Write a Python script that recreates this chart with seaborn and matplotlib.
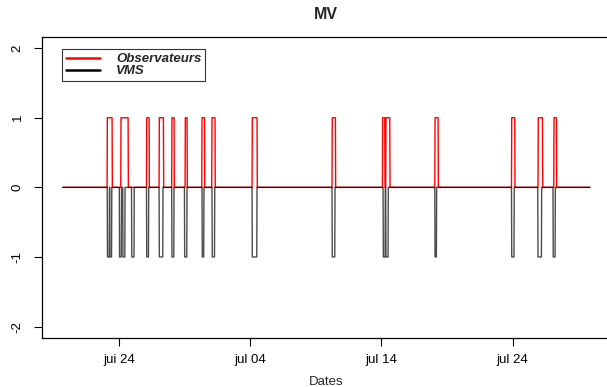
import matplotlib
matplotlib.use("Agg")
import matplotlib.pyplot as plt
import seaborn as sns
import pandas as pd
import numpy as np
from matplotlib.lines import Line2D

# ---- data (day offsets relative to 24 June) ----
base_date = "2010-06-24"
series_start = -4.26
series_end = 35.88

obs_start = [-0.88, 0.16, 2.12, 3.08, 4.04, 5.06, 6.33, 7.09, 10.16, 16.25, 20.09, 20.34, 24.08, 29.92, 31.94, 33.14]
obs_end   = [-0.50, 0.72, 2.32, 3.41, 4.22, 5.21, 6.54, 7.34, 10.54, 16.51, 20.27, 20.65, 24.33, 30.17, 32.28, 33.34]

vms_start = [-0.87, -0.68, 0.05, 0.31, 0.98, 2.12, 3.08, 4.04, 5.01, 6.35, 7.11, 10.16, 16.25, 20.14, 20.34, 24.08, 29.92, 31.92, 33.08]
vms_end   = [-0.72, -0.54, 0.20, 0.47, 1.17, 2.27, 3.36, 4.20, 5.19, 6.48, 7.30, 10.52, 16.46, 20.29, 20.52, 24.20, 30.11, 32.20, 33.24]

obs_value = 1
vms_value = -1
series_names = ["Observateurs", "VMS"]
tick_days = [0, 10, 20, 30]
tick_labels = ["jui 24", "jul 04", "jul 14", "jul 24"]

ramp = 0.02

def build(starts, ends, val, name):
    t = [series_start]
    v = [0]
    for s, e in zip(starts, ends):
        t += [s - ramp / 2, s + ramp / 2, e - ramp / 2, e + ramp / 2]
        v += [0, val, val, 0]
    t.append(series_end)
    v.append(0)
    base = pd.Timestamp(base_date)
    return pd.DataFrame({"Dates": [base + pd.Timedelta(days=x) for x in t],
                         "value": v, "serie": name})

df = pd.concat([build(obs_start, obs_end, obs_value, series_names[0]),
                build(vms_start, vms_end, vms_value, series_names[1])],
               ignore_index=True)

sns.set_style("ticks")
plt.rcParams["font.family"] = ["Liberation Sans", "DejaVu Sans"]

fig = plt.figure(figsize=(6.07, 3.87), dpi=100)
ax = fig.add_axes([41.7 / 607, 1 - 337.7 / 387, (611 - 41.7) / 607, (337.7 - 37) / 387])

sns.lineplot(data=df, x="Dates", y="value", hue="serie",
             palette={"Observateurs": "#ff0000", "VMS": "#000000"},
             estimator=None, sort=False, linewidth=1.0, ax=ax, legend=False)
for ln, a in zip(ax.get_lines(), [1.0, 0.7]):
    ln.set_alpha(a)

base = pd.Timestamp(base_date)
ax.set_xlim(base + pd.Timedelta(days=-5.87), base + pd.Timedelta(days=37.49))
ax.set_ylim(-2.16, 2.16)
ax.set_xticks([base + pd.Timedelta(days=d) for d in tick_days])
ax.set_xticklabels(tick_labels)
ax.set_yticks([-2, -1, 0, 1, 2])
ax.set_yticklabels(["-2", "-1", "0", "1", "2"], rotation=90, va="center")
ax.tick_params(axis="both", direction="out", length=6, width=0.8, colors="black",
               labelsize=9.5, pad=6)
ax.tick_params(axis="y", pad=7)
for name, sp in ax.spines.items():
    sp.set_visible(name != "right")
    sp.set_color("black")
    sp.set_linewidth(0.9)

ax.set_xlabel("Dates", fontsize=9.5, labelpad=7)
ax.set_ylabel("")
ax.set_title("MV", fontsize=11.5, fontweight="bold", pad=13)

handles = [Line2D([0], [0], color="#ff0000", lw=1.8), Line2D([0], [0], color="#000000", lw=1.8)]
leg = ax.legend(handles, series_names, loc="upper left", bbox_to_anchor=(0.0357, 0.96),
                borderaxespad=0, frameon=True, fancybox=False, handlelength=2.6,
                handletextpad=1.2, borderpad=0.3, labelspacing=0.0,
                prop={"weight": "bold", "style": "italic", "size": 9.5})
leg.get_frame().set_edgecolor("black")
leg.get_frame().set_linewidth(0.8)
leg.get_frame().set_boxstyle("square", pad=0)

fig.savefig("out.png", dpi=100)
